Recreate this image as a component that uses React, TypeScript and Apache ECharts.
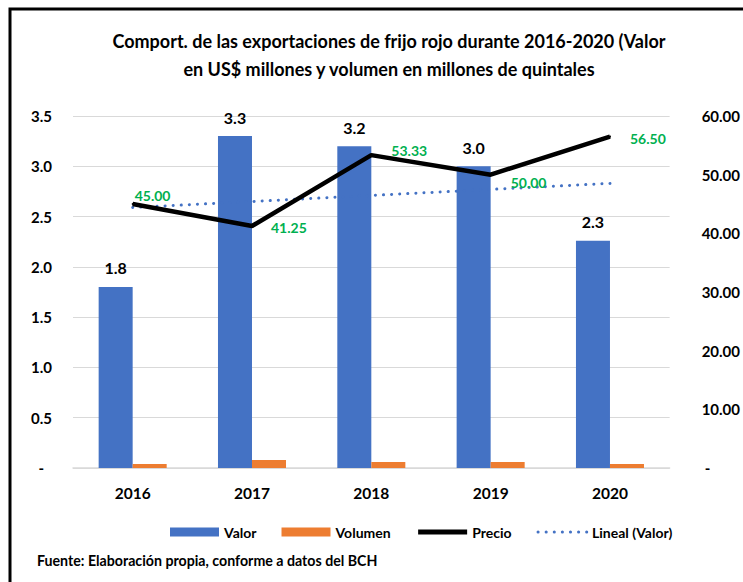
import React, { useEffect, useRef } from "react";
import * as echarts from "echarts";

const YEARS = ["2016", "2017", "2018", "2019", "2020"];
const VALOR = [1.8, 3.3, 3.2, 3.0, 2.26];
const VOLUMEN = [0.04, 0.08, 0.06, 0.06, 0.04];
const PRECIO = [45.0, 41.25, 53.33, 50.0, 56.5];
const LINEAL_VALOR = [2.59, 2.65, 2.71, 2.77, 2.83];

const TITLE = "Comport. de las exportaciones de frijo rojo durante 2016-2020 (Valor\nen US$ millones y volumen en millones de quintales";
const SOURCE = "Fuente: Elaboración propia, conforme a datos del BCH";

const FONT = "Lato, 'Open Sans', sans-serif";

export default function App() {
  const ref = useRef<HTMLDivElement>(null);

  useEffect(() => {
    if (!ref.current) return;
    const chart = echarts.init(ref.current, undefined, { renderer: "svg" });
    const precioOffsets = [
      [1, -9],
      [18, 1],
      [19, -5],
      [19, 8],
      [19, 2],
    ];
    chart.setOption({
      animation: false,
      backgroundColor: "#ffffff",
      textStyle: { fontFamily: FONT },
      title: {
        text: TITLE,
        left: 384,
        top: 22,
        textAlign: "center",
        textStyle: {
          fontFamily: FONT,
          fontSize: 18,
          fontWeight: "bold",
          color: "#000",
          lineHeight: 28,
        },
      },
      legend: {
        left: 170,
        top: 525,
        padding: 0,
        itemWidth: 49,
        itemHeight: 9,
        itemGap: 25,
        textStyle: { fontFamily: FONT, fontSize: 14, fontWeight: "bold", color: "#000" },
        data: [
          { name: "Valor", icon: "rect" },
          { name: "Volumen", icon: "rect" },
          { name: "Precio", itemStyle: { opacity: 0 }, lineStyle: { width: 5 } },
          { name: "Lineal (Valor)", itemStyle: { opacity: 0 }, lineStyle: { width: 3 } },
        ],
      },
      grid: { left: 73, right: 71, top: 116, bottom: 114 },
      xAxis: {
        type: "category",
        data: YEARS,
        axisLine: { lineStyle: { color: "#d9d9d9", width: 1.5 } },
        axisTick: { show: false },
        axisLabel: {
          margin: 17,
          fontFamily: FONT,
          fontSize: 15.5,
          fontWeight: "bold",
          color: "#000",
        },
      },
      yAxis: [
        {
          type: "value",
          min: 0,
          max: 3.5,
          interval: 0.5,
          axisLine: { show: false },
          axisTick: { show: false },
          splitLine: { lineStyle: { color: "#d9d9d9", width: 1 } },
          axisLabel: {
            margin: 21,
            fontFamily: FONT,
            fontSize: 15,
            fontWeight: "bold",
            color: "#000",
            formatter: (v: number) => (v === 0 ? "{d|-}" : v.toFixed(1)),
            rich: { d: { padding: [0, 8, 0, 0], fontSize: 15, fontWeight: "bold", fontFamily: FONT } },
          },
        },
        {
          type: "value",
          min: 0,
          max: 60,
          interval: 10,
          axisLine: { show: false },
          axisTick: { show: false },
          splitLine: { show: false },
          axisLabel: {
            margin: 32,
            fontFamily: FONT,
            fontSize: 15,
            fontWeight: "bold",
            color: "#000",
            formatter: (v: number) => (v === 0 ? "{d|-}" : v.toFixed(2)),
            rich: { d: { padding: [0, 0, 0, 3], fontSize: 15, fontWeight: "bold", fontFamily: FONT } },
          },
        },
      ],
      series: [
        {
          name: "Valor",
          type: "bar",
          data: VALOR,
          barGap: "0%",
          barCategoryGap: "43%",
          itemStyle: { color: "#4472C4" },
          label: {
            show: true,
            position: "top",
            distance: 11,
            fontFamily: FONT,
            fontSize: 16,
            fontWeight: "bold",
            color: "#000",
            formatter: (p: any) => Number(p.value).toFixed(1),
          },
          z: 2,
        },
        {
          name: "Volumen",
          type: "bar",
          data: VOLUMEN,
          itemStyle: { color: "#ED7D31" },
          z: 2,
        },
        {
          name: "Lineal (Valor)",
          type: "line",
          yAxisIndex: 0,
          data: LINEAL_VALOR,
          symbol: "none",
          itemStyle: { color: "#4472C4" },
          lineStyle: { color: "#4472C4", width: 3, type: [0.1, 8], cap: "round" },
          z: 3,
        },
        {
          name: "Precio",
          type: "line",
          yAxisIndex: 1,
          data: PRECIO.map((v, i) => ({
            value: v,
            label: { offset: precioOffsets[i] },
          })),
          symbol: "circle",
          symbolSize: 2,
          itemStyle: { color: "#000" },
          lineStyle: { color: "#000", width: 4.5 },
          label: {
            show: true,
            position: "right",
            distance: 0,
            fontFamily: FONT,
            fontSize: 14,
            fontWeight: "bold",
            color: "#00B050",
            formatter: (p: any) => Number(p.value).toFixed(2),
          },
          z: 4,
        },
      ],
      graphic: [
        {
          type: "rect",
          shape: { x: 10, y: 9, width: 800, height: 700 },
          style: { fill: "none", stroke: "#000", lineWidth: 3 },
          silent: true,
        },
        {
          type: "text",
          left: 37,
          top: 553,
          style: {
            text: SOURCE,
            fontFamily: FONT,
            fontSize: 14.2,
            fontWeight: "bold",
            fill: "#000",
          },
        },
      ],
    });
    return () => chart.dispose();
  }, []);

  return (
    <div
      ref={ref}
      style={{ position: "fixed", left: 0, top: 0, width: 743, height: 582 }}
    />
  );
}
